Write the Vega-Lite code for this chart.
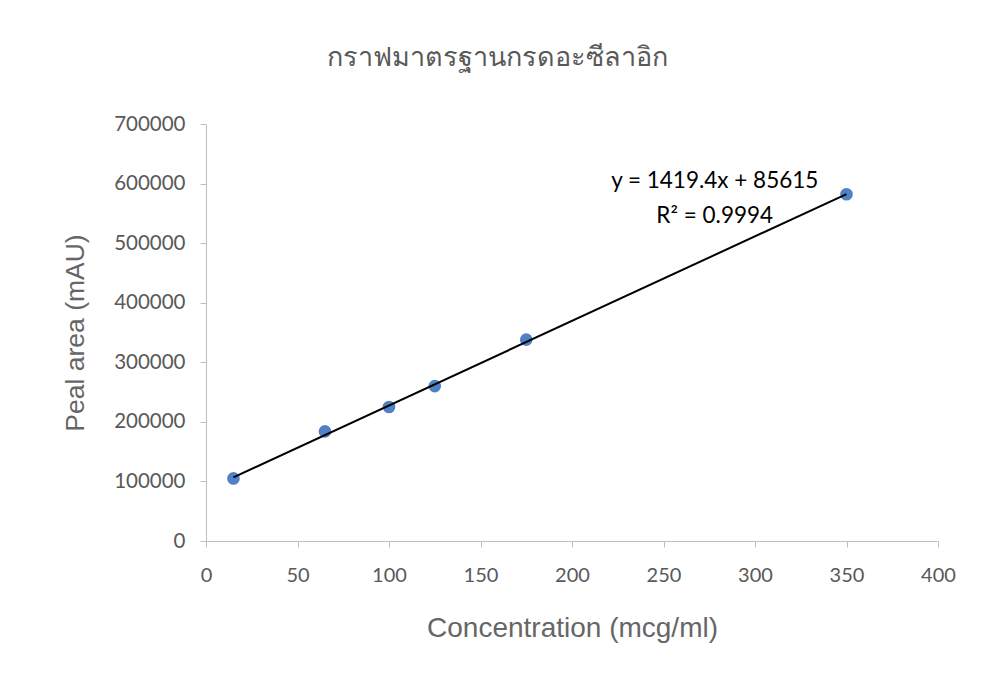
{
  "$schema": "https://vega.github.io/schema/vega-lite/v6.json",
  "width": 732,
  "height": 417,
  "autosize": "none",
  "padding": {"left": 206, "top": 124, "right": 46, "bottom": 138},
  "background": "white",
  "config": {"view": {"stroke": null}},
  "title": {
    "text": "กราฟมาตรฐานกรดอะซีลาอิก",
    "fontSize": 27,
    "font": "Noto Sans",
    "fontWeight": 300,
    "color": "#595959",
    "anchor": "middle",
    "dx": -75,
    "offset": 42
  },
  "datasets": {
    "points": [
      {"conc": 15, "area": 105000},
      {"conc": 65, "area": 184000},
      {"conc": 100, "area": 225000},
      {"conc": 125, "area": 260000},
      {"conc": 175, "area": 338000},
      {"conc": 350, "area": 582000}
    ],
    "trend": [
      {"conc": 15, "area": 106906},
      {"conc": 350, "area": 582405}
    ]
  },
  "layer": [
    {
      "data": {"name": "points"},
      "mark": {"type": "point", "filled": true, "size": 160, "color": "#5081c4", "opacity": 1},
      "encoding": {
        "x": {
          "field": "conc", "type": "quantitative",
          "scale": {"domain": [0, 400], "nice": false},
          "axis": {
            "title": "Concentration (mcg/ml)",
            "values": [0, 50, 100, 150, 200, 250, 300, 350, 400],
            "grid": false,
            "labelFlush": false,
            "domainColor": "#bfbfbf",
            "tickColor": "#bfbfbf",
            "tickSize": 6,
            "labelFont": "Lato",
            "labelFontSize": 20,
            "labelColor": "#595959",
            "labelPadding": 18,
            "titleFont": "Liberation Sans",
            "titleFontSize": 28,
            "titleFontWeight": "normal",
            "titleColor": "#666666",
            "titlePadding": 29
          }
        },
        "y": {
          "field": "area", "type": "quantitative",
          "scale": {"domain": [0, 700000], "nice": false},
          "axis": {
            "title": "Peal area (mAU)",
            "values": [0, 100000, 200000, 300000, 400000, 500000, 600000, 700000],
            "format": "d",
            "grid": false,
            "labelFlush": false,
            "domainColor": "#bfbfbf",
            "tickColor": "#bfbfbf",
            "tickSize": 6,
            "labelFont": "Lato",
            "labelFontSize": 20.5,
            "labelColor": "#595959",
            "labelPadding": 15,
            "titleFont": "Liberation Sans",
            "titleFontSize": 26.5,
            "titleFontWeight": "normal",
            "titleColor": "#666666",
            "titlePadding": 24
          }
        }
      }
    },
    {
      "data": {"name": "trend"},
      "mark": {"type": "line", "color": "black", "strokeWidth": 2},
      "encoding": {
        "x": {"field": "conc", "type": "quantitative"},
        "y": {"field": "area", "type": "quantitative"}
      }
    },
    {
      "data": {"values": [{}]},
      "mark": {"type": "text", "text": "y = 1419.4x + 85615", "font": "Lato", "fontSize": 22.5, "color": "black", "align": "center", "baseline": "middle"},
      "encoding": {
        "x": {"datum": 278, "type": "quantitative"},
        "y": {"datum": 604000, "type": "quantitative"}
      }
    },
    {
      "data": {"values": [{}]},
      "mark": {"type": "text", "text": "R² = 0.9994", "font": "Lato", "fontSize": 22.5, "color": "black", "align": "center", "baseline": "middle"},
      "encoding": {
        "x": {"datum": 278, "type": "quantitative"},
        "y": {"datum": 546000, "type": "quantitative"}
      }
    }
  ]
}
